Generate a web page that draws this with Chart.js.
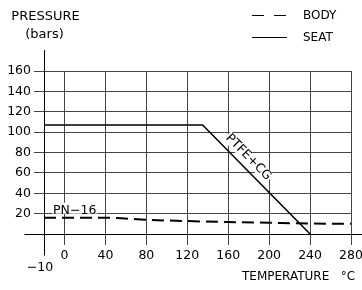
<!DOCTYPE html>
<html>
<head>
<meta charset="utf-8">
<script src="https://cdn.jsdelivr.net/npm/chart.js@4.4.1/dist/chart.umd.min.js"></script>
<style>
  html, body { margin: 0; padding: 0; background: #fff; }
  canvas { display: block; }
</style>
</head>
<body>
<canvas id="chart" width="362" height="290"></canvas>
<script>
// --- Data ---
const xTicks = [-10, 0, 40, 80, 120, 160, 200, 240, 280];
const yTicks = [0, 20, 40, 60, 80, 100, 120, 140, 160];

const bodyTemp = [-10, 40, 80, 120, 160, 200, 240, 280];
const bodyPressure = [16, 16, 14, 12.7, 11.8, 11, 10.3, 10];

const seatTemp = [-10, 135, 240];
const seatPressure = [107, 107, 0];

const FONT = '"DejaVu Sans", sans-serif';

// x axis is squeezed left of zero: -10 sits where -20 would be
class BrokenLinearScale extends Chart.LinearScale {
    getPixelForValue(value) {
        if (value !== null && value < 0) value = value * 2;
        return super.getPixelForValue(value);
    }
}
BrokenLinearScale.id = 'brokenLinear';
BrokenLinearScale.defaults = Chart.LinearScale.defaults;
Chart.register(BrokenLinearScale);

const toPoints = (xs, ys) => xs.map((x, i) => ({ x: x, y: ys[i] }));

// --- Extra drawing: axes, titles, legend, curve labels ---
const decorPlugin = {
    id: 'decor',
    beforeDatasetsDraw(chart) {
        const ctx = chart.ctx;
        const xs = chart.scales.x, ys = chart.scales.y;
        ctx.save();
        ctx.font = '12.5px ' + FONT;
        ctx.fillStyle = '#000';

        // PN-16 label sitting on the 20 bar line
        const px = xs.getPixelForValue(10);
        const py = ys.getPixelForValue(20);
        const w = ctx.measureText('PN\u221216').width;
        ctx.fillStyle = '#fff';
        ctx.fillRect(px - w / 2 - 1, py - 11, w + 2, 11);
        ctx.fillStyle = '#000';
        ctx.textAlign = 'center';
        ctx.textBaseline = 'alphabetic';
        ctx.fillText('PN\u221216', px, py);

        // PTFE+CG along the sloping seat line
        const ds = chart.data.datasets[1].data;
        const x1 = xs.getPixelForValue(ds[1].x), y1 = ys.getPixelForValue(ds[1].y);
        const x2 = xs.getPixelForValue(ds[2].x), y2 = ys.getPixelForValue(ds[2].y);
        const ang = Math.atan2(y2 - y1, x2 - x1);
        const f = 0.36, off = 10;
        const cx = x1 + (x2 - x1) * f + Math.sin(ang) * off;
        const cy = y1 + (y2 - y1) * f - Math.cos(ang) * off;
        ctx.translate(cx, cy);
        ctx.rotate(ang);
        const tw = ctx.measureText('PTFE+CG').width;
        ctx.fillStyle = '#fff';
        ctx.fillRect(-tw / 2 - 1, -6, tw + 2, 12);
        ctx.fillStyle = '#000';
        ctx.textBaseline = 'middle';
        ctx.fillText('PTFE+CG', 0, 0);
        ctx.restore();
    },
    afterDatasetsDraw(chart) {
        const ctx = chart.ctx;
        const xs = chart.scales.x, ys = chart.scales.y;
        const ax = Math.round(xs.getPixelForValue(-10)) + 0.5;
        const ay = Math.round(ys.getPixelForValue(0)) + 0.5;
        ctx.save();
        ctx.strokeStyle = '#000';
        ctx.lineWidth = 1;
        ctx.beginPath();
        ctx.moveTo(ax, chart.chartArea.top - 21);
        ctx.lineTo(ax, ay + 21);
        ctx.moveTo(ax - 20, ay);
        ctx.lineTo(chart.width, ay);
        ctx.stroke();

        ctx.fillStyle = '#000';
        ctx.font = '13px ' + FONT;
        ctx.textBaseline = 'middle';
        ctx.textAlign = 'center';
        ctx.fillText('PRESSURE', ax + 1, 17);
        ctx.fillText('(bars)', ax, 35);

        ctx.font = '12px ' + FONT;
        ctx.textAlign = 'left';
        ctx.fillText('TEMPERATURE   \u00b0C', 242, 277);

        // legend
        const items = [[chart.data.datasets[0], 15], [chart.data.datasets[1], 37]];
        items.forEach(([d, y]) => {
            ctx.setLineDash(d.label === 'BODY' ? [12, 10] : []);
            ctx.lineWidth = 1.2;
            ctx.beginPath();
            ctx.moveTo(252, y + 0.5);
            ctx.lineTo(287, y + 0.5);
            ctx.stroke();
            ctx.setLineDash([]);
            ctx.fillText(d.label, 303, y + 1);
        });
        ctx.restore();
    }
};

const chart = new Chart(document.getElementById('chart'), {
    type: 'line',
    data: {
        datasets: [
            {
                label: 'BODY',
                data: toPoints(bodyTemp, bodyPressure),
                borderColor: '#000',
                borderWidth: 2,
                borderDash: [12, 6],
                cubicInterpolationMode: 'monotone',
                pointRadius: 0,
                fill: false
            },
            {
                label: 'SEAT',
                data: toPoints(seatTemp, seatPressure),
                borderColor: '#000',
                borderWidth: 1.5,
                pointRadius: 0,
                fill: false
            }
        ]
    },
    options: {
        responsive: false,
        animation: false,
        devicePixelRatio: 1,
        layout: { padding: { top: 71, right: 11, left: 0, bottom: 0 } },
        plugins: { legend: { display: false }, tooltip: { enabled: false } },
        scales: {
            x: {
                type: 'brokenLinear',
                min: -20,
                max: 280,
                afterBuildTicks: s => { s.ticks = xTicks.map(v => ({ value: v })); },
                afterFit: s => { s.height = 56; s.paddingLeft = 0; s.paddingRight = 0; },
                grid: { color: '#444', lineWidth: 1, tickLength: 11, drawTicks: true },
                border: { display: false },
                ticks: {
                    autoSkip: false,
                    maxRotation: 0,
                    padding: 5,
                    color: '#000',
                    font: { family: FONT, size: 12.5, lineHeight: 0.95 },
                    callback: v => v === -10 ? ['', '\u221210  '] : String(v)
                }
            },
            y: {
                min: 0,
                max: 160,
                afterBuildTicks: s => { s.ticks = yTicks.map(v => ({ value: v })); },
                afterFit: s => { s.width = 44; s.paddingTop = 0; s.paddingBottom = 0; },
                grid: { color: '#444', lineWidth: 1, tickLength: 10, drawTicks: true },
                border: { display: false },
                ticks: {
                    padding: 3,
                    color: '#000',
                    font: { family: FONT, size: 12.5 },
                    callback: v => v === 0 ? '' : String(v)
                }
            }
        }
    },
    plugins: [decorPlugin]
});
</script>
</body>
</html>
